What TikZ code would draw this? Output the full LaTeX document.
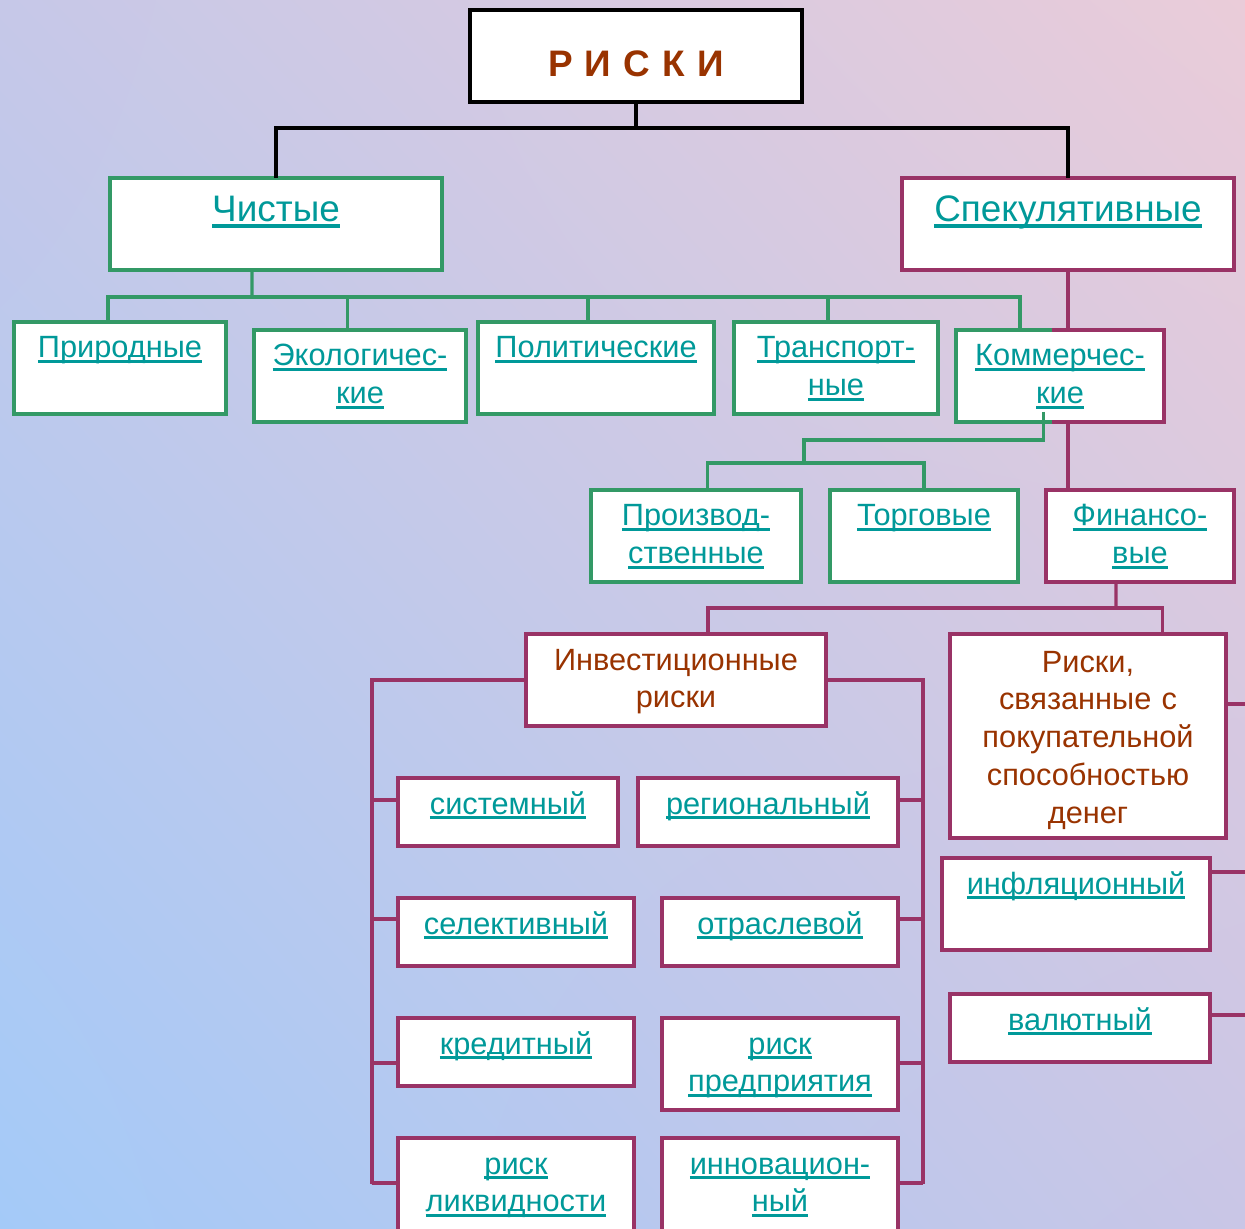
\documentclass[tikz,border=0pt]{standalone}
\usepackage{fontspec}
\setmainfont{Liberation Sans}
\usepackage{xcolor}
\usetikzlibrary{positioning, shadings}
\definecolor{Jade}{HTML}{339966}
\definecolor{Plum}{HTML}{993366}
\definecolor{Teal}{HTML}{009999}
\definecolor{Rust}{HTML}{993300}
\definecolor{SkyTL}{HTML}{C6C8E8}
\definecolor{SkyTR}{HTML}{EACCD9}
\definecolor{SkyBL}{HTML}{A4CAF8}
\definecolor{SkyBR}{HTML}{C9C6E6}
\newcommand{\itemsize}{\fontsize{17.5}{21.5}\selectfont}
\newcommand{\headsize}{\fontsize{21}{25}\selectfont}
\newcommand{\lnk}[1]{\leavevmode\setbox0=\hbox{#1}\rlap{\rule[-0.16em]{\wd0}{0.1em}}\box0}

\begin{document}
\begin{tikzpicture}[x=0.02cm, y=-0.02cm,
    riskbox/.style={rectangle, fill=white, line width=0.08cm, inner sep=0pt,
                    outer sep=0pt, align=center},
    jadebox/.style={riskbox, draw=Jade, text=Teal, font=\itemsize},
    plumbox/.style={riskbox, draw=Plum, text=Teal, font=\itemsize},
    headbox/.style={font=\headsize, text height=0.88cm, text depth=0.96cm},
    tallbox/.style={text height=0.72cm, text depth=1.12cm},
    lowbox/.style={text height=0.72cm, text depth=0.64cm},
    jadeline/.style={draw=Jade, line width=0.065cm},
    plumline/.style={draw=Plum, line width=0.065cm},
    inkline/.style={draw=black, line width=0.07cm}]
    \useasboundingbox (0,0) rectangle (1245,1229);
    \shade[upper left=SkyTL, upper right=SkyTR, lower left=SkyBL, lower right=SkyBR]
        (0,0) rectangle (1245,1229);

    % Top
    \node[riskbox, draw=black, text=Rust, font=\headsize\bfseries, text width=6.64cm,
          text height=1.34cm, text depth=0.5cm] (root) at (636,56) {Р И С К И};
    \node[jadebox, headbox, text width=6.64cm] (pure) at (276,224) {\lnk{Чистые}};
    \node[plumbox, headbox, text width=6.66cm] (spec) at (1068,224) {\lnk{Спекулятивные}};

    % Pure risks
    \node[jadebox, tallbox, text width=4.24cm] (nat) at (120,368) {\lnk{Природные}};
    \node[jadebox, tallbox, text width=4.24cm] (eco) at (360,376) {\lnk{Экологичес-}\\\lnk{кие}};
    \node[jadebox, tallbox, text width=4.72cm] (pol) at (596,368) {\lnk{Политические}};
    \node[jadebox, tallbox, text width=4.08cm] (trans) at (836,368) {\lnk{Транспорт-}\\\lnk{ные}};
    \node[plumbox, tallbox, text width=4.16cm] (comm) at (1060,376) {\lnk{Коммерчес-}\\\lnk{кие}};
    \draw[jadeline, line width=0.08cm] ([xshift=1.92cm]comm.north west) -- (comm.north west)
        -- (comm.south west) -- ([xshift=1.92cm]comm.south west);

    % Commercial risks
    \node[jadebox, tallbox, text width=4.22cm] (prod) at (696,536) {\lnk{Производ-}\\\lnk{ственные}};
    \node[jadebox, tallbox, text width=3.76cm] (trade) at (924,536) {\lnk{Торговые}};
    \node[plumbox, tallbox, text width=3.76cm] (fin) at (1140,536) {\lnk{Финансо-}\\\lnk{вые}};

    % Financial risks
    \node[plumbox, tallbox, text=Rust, text width=6cm] (inv) at (676,680) {Инвестиционные\\риски};
    \node[plumbox, text=Rust, text width=5.54cm, text height=0.76cm, text depth=3.32cm]
        (pow) at (1088,736) {Риски,\\связанные с\\покупательной\\способностью\\денег};

    % Investment risks
    \node[plumbox, lowbox, text width=4.4cm] (sys) at (508,812) {\lnk{системный}};
    \node[plumbox, lowbox, text width=5.2cm] (reg) at (768,812) {\lnk{региональный}};
    \node[plumbox, lowbox, text width=4.72cm] (sel) at (516,932) {\lnk{селективный}};
    \node[plumbox, lowbox, text width=4.72cm] (ind) at (780,932) {\lnk{отраслевой}};
    \node[plumbox, lowbox, text width=4.72cm] (cred) at (516,1052) {\lnk{кредитный}};
    \node[plumbox, tallbox, text width=4.72cm] (ent) at (780,1064) {\lnk{риск}\\\lnk{предприятия}};
    \node[plumbox, text width=4.72cm, text height=0.72cm, text depth=1.28cm]
        (liq) at (516,1188) {\lnk{риск}\\\lnk{ликвидности}};
    \node[plumbox, text width=4.72cm, text height=0.72cm, text depth=1.28cm]
        (inn) at (780,1188) {\lnk{инновацион-}\\\lnk{ный}};

    % Purchasing power risks
    \node[plumbox, tallbox, text width=5.36cm] (infl) at (1076,904) {\lnk{инфляционный}};
    \node[plumbox, lowbox, text width=5.2cm] (cur) at (1080,1028) {\lnk{валютный}};

    % Connectors
    \coordinate (kbus) at (636,128);
    \draw[inkline] (root.south) -- (kbus);
    \draw[inkline] (pure.north) |- (kbus);
    \draw[inkline] (spec.north) |- (kbus);

    \coordinate (gbus) at (252,297);
    \draw[jadeline] ([xshift=-0.48cm]pure.south) -- (gbus);
    \foreach \n/\dx in {nat/-0.24, eco/-0.25, pol/-0.16, trans/-0.16, comm/-0.8}
        \draw[jadeline] ([xshift=\dx cm]\n.north) |- (gbus);

    \draw[plumline] (spec.south) -- (spec.south |- comm.north);
    \draw[plumline] (spec.south |- comm.south) -- (spec.south |- fin.north);

    \coordinate (cturn) at (804,440);
    \coordinate (cbus) at (804,463);
    \draw[jadeline] ([xshift=-0.33cm, yshift=0.2cm]comm.south) |- (cturn) -- (cbus);
    \draw[jadeline] ([xshift=0.23cm]prod.north) |- (cbus);
    \draw[jadeline] (trade.north) |- (cbus);

    \coordinate (fbus) at (1116,608);
    \draw[plumline] ([xshift=-0.48cm]fin.south) -- (fbus);
    \draw[plumline] ([xshift=0.64cm]inv.north) |- (fbus);
    \draw[plumline] ([xshift=1.49cm]pow.north) |- (fbus);

    \coordinate (lbus) at (372,1184);
    \coordinate (rbus) at (923,1184);
    \draw[plumline] (inv.west) -| (lbus);
    \draw[plumline] (inv.east) -| (rbus);
    \foreach \n/\dy in {sys/0.24, sel/0.26, cred/-0.22, liq/0.1}
        \draw[plumline] ([yshift=\dy cm]\n.west) -| (lbus);
    \foreach \n/\dy in {reg/0.24, ind/0.26, ent/0.02, inn/0.1}
        \draw[plumline] ([yshift=\dy cm]\n.east) -| (rbus);

    \draw[plumline] ([yshift=0.64cm]pow.east) -- ++(40,0);
    \draw[plumline] ([yshift=0.64cm]infl.east) -- ++(40,0);
    \draw[plumline] ([yshift=0.26cm]cur.east) -- ++(40,0);
\end{tikzpicture}
\end{document}
